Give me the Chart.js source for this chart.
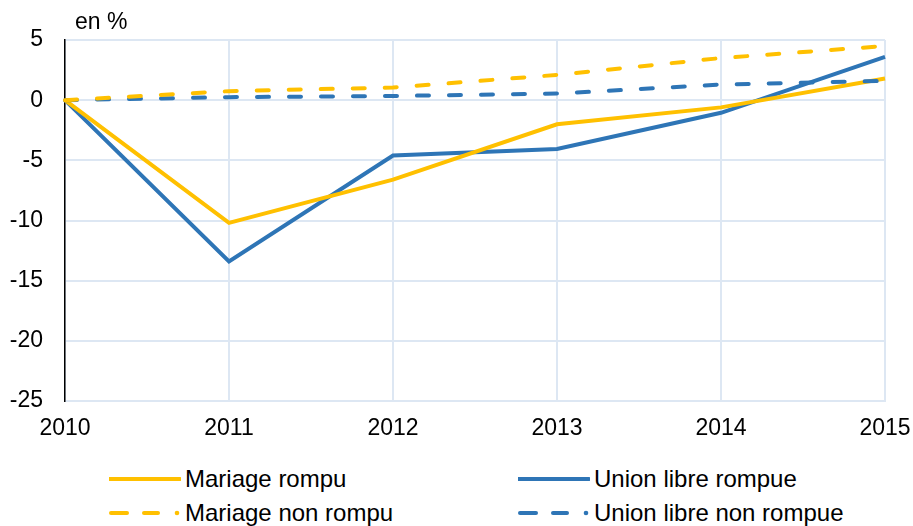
<!DOCTYPE html>
<html><head><meta charset="utf-8">
<script src="https://cdn.jsdelivr.net/npm/chart.js@4"></script>
<style>
html,body{margin:0;padding:0;background:#fff;}
#wrap{position:relative;width:913px;height:526px;font-family:"Liberation Sans",Arial,sans-serif;overflow:hidden;}
#c{position:absolute;left:0;top:0;}
#unit{position:absolute;left:75px;top:7px;font-size:23px;line-height:28px;color:#000;}
.lg{position:absolute;font-size:24px;color:#000;display:flex;align-items:center;white-space:nowrap;}
.lg svg{margin-right:4px;}
</style></head>
<body><div id="wrap"><canvas id="c" width="913" height="450"></canvas><div id="unit">en %</div><div id="legend"></div></div>
<script>
const years = ["2010","2011","2012","2013","2014","2015"];
const mariageRompu = [0, -10.2, -6.6, -2.0, -0.6, 1.8];
const unionRompue = [0, -13.4, -4.6, -4.05, -1.05, 3.6];
const mariageNonRompu = [0, 0.75, 1.05, 2.1, 3.5, 4.5];
const unionNonRompue = [0, 0.25, 0.35, 0.55, 1.3, 1.6];
const seriesNames = ["Mariage rompu","Union libre rompue","Mariage non rompu","Union libre non rompue"];
const yellow = "#FFC000", blue = "#2E75B6", gridCol = "#DDE7F3";

const datasets = [
  {label: seriesNames[0], data: mariageRompu, borderColor: yellow, borderWidth: 4, pointRadius: 0, tension: 0, fill: false},
  {label: seriesNames[1], data: unionRompue, borderColor: blue, borderWidth: 4, pointRadius: 0, tension: 0, fill: false},
  {label: seriesNames[2], data: mariageNonRompu, borderColor: yellow, borderWidth: 4, borderDash: [12, 20], borderCapStyle: "round", pointRadius: 0, tension: 0, fill: false},
  {label: seriesNames[3], data: unionNonRompue, borderColor: blue, borderWidth: 4, borderDash: [12, 20], borderCapStyle: "round", pointRadius: 0, tension: 0, fill: false}
];
const ordered = [datasets[2], datasets[3], datasets[0], datasets[1]];

new Chart(document.getElementById("c"), {
  type: "line",
  data: {labels: years, datasets: ordered},
  options: {
    responsive: false, animation: false,
    layout: {padding: {top: 40, right: 28, left: 0, bottom: 0}},
    plugins: {legend: {display: false}, tooltip: {enabled: false}},
    scales: {
      x: {
        offset: false,
        grid: {color: gridCol, lineWidth: 2, drawTicks: false, tickLength: 0},
        border: {color: gridCol, width: 2},
        ticks: {color: "#000", font: {family: "Liberation Sans", size: 23}, padding: 14, maxRotation: 0, autoSkip: false},
        afterFit: s => { s.height = 49; s.paddingLeft = 0; s.paddingRight = 0; }
      },
      y: {
        min: -25, max: 5,
        grid: {color: gridCol, lineWidth: 2, drawTicks: false, tickLength: 0},
        border: {color: "#000", width: 1.5},
        ticks: {stepSize: 5, color: "#000", font: {family: "Liberation Sans", size: 23}, padding: 22},
        afterFit: s => { s.width = 65; s.paddingTop = 0; s.paddingBottom = 0; }
      }
    }
  }
});

const legendPos = [
  {x: 109, y: 479}, {x: 518, y: 479}, {x: 109, y: 513}, {x: 518, y: 513}
];
const legendEl = document.getElementById("legend");
datasets.forEach((d, i) => {
  const p = legendPos[i];
  const div = document.createElement("div");
  div.className = "lg";
  div.style.left = p.x + "px";
  div.style.top = (p.y - 14) + "px";
  div.style.height = "28px";
  let svg = '<svg width="72" height="8">';
  if (d.borderDash) {
    svg += '<line x1="2" y1="4" x2="18" y2="4" stroke="' + d.borderColor + '" stroke-width="4" stroke-linecap="round"/>' +
           '<line x1="35" y1="4" x2="49" y2="4" stroke="' + d.borderColor + '" stroke-width="4" stroke-linecap="round"/>' +
           '<circle cx="68" cy="4" r="2.3" fill="' + d.borderColor + '"/>';
  } else {
    svg += '<line x1="0" y1="4" x2="71" y2="4" stroke="' + d.borderColor + '" stroke-width="4" stroke-linecap="round"/>';
  }
  svg += '</svg>';
  div.innerHTML = svg;
  const span = document.createElement("span");
  span.textContent = d.label;
  div.appendChild(span);
  legendEl.appendChild(div);
});
</script></body></html>
